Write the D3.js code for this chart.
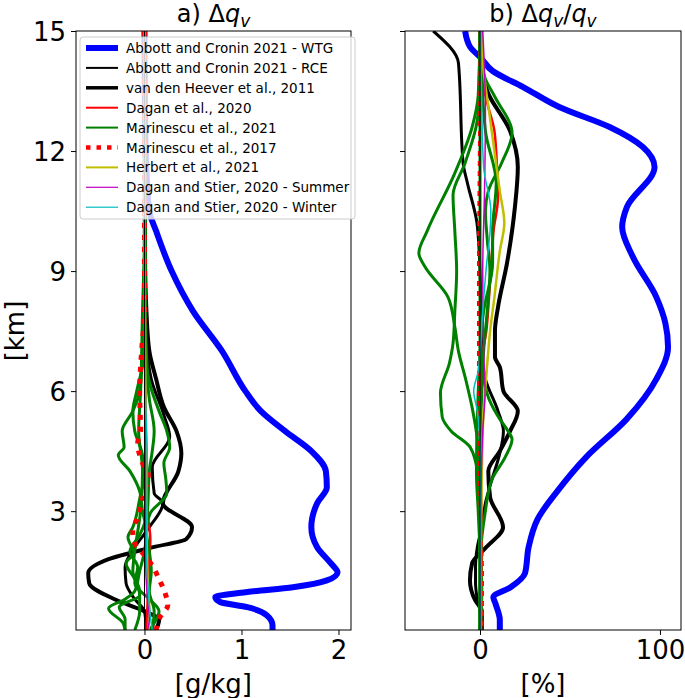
<!DOCTYPE html>
<html><head><meta charset="utf-8">
<script src="https://cdn.jsdelivr.net/npm/d3@7"></script>
<style>body{margin:0;background:#fff}svg{display:block}text{font-family:"DejaVu Sans",sans-serif;fill:#000}</style>
</head><body><svg id="c" width="685" height="698"></svg>
<script>
// ---------- data: [value, height km] ----------
const seriesNames = ["Abbott and Cronin 2021 - WTG","Abbott and Cronin 2021 - RCE","van den Heever et al., 2011","Dagan et al., 2020","Marinescu et al., 2021","Marinescu et al., 2017","Herbert et al., 2021","Dagan and Stier, 2020 - Summer","Dagan and Stier, 2020 - Winter"];
const xTicksA = [0,1,2];
const xTicksB = [0,100];
const yTicks = [3,6,9,12,15];

// panel a) Δq_v [g/kg]
const wtgA = [[1.32,0.03],[1.32,0.15],[1.26,0.4],[1.06,0.6],[0.78,0.73],[0.73,0.85],[1.06,0.98],[1.53,1.1],[1.88,1.27],[1.99,1.47],[1.92,1.7],[1.78,2.1],[1.72,2.6],[1.78,3.2],[1.88,3.6],[1.87,4.0],[1.72,4.5],[1.45,5.0],[1.2,5.5],[1.04,6.0],[0.8,7.0],[0.5,8.0],[0.28,9.0],[0.12,10.0],[0.05,10.5],[0.02,11.5],[0.005,13],[0,15]];
const rceA = [[0.02,0.03],[0.0,0.5],[-0.1,0.8],[-0.19,1.2],[-0.2,1.6],[-0.1,2.1],[0.05,2.6],[0.19,3.2],[0.1,3.45],[0.08,4.1],[0.26,4.86],[0.2,5.4],[0.07,6.3],[0.03,7],[0.01,8.5],[0,10],[0,15]];
const vdhA = [[0.12,0.03],[0.15,0.28],[-0.02,0.52],[-0.29,0.78],[-0.57,1.2],[-0.58,1.45],[-0.37,1.8],[0.09,2.1],[0.43,2.3],[0.49,2.6],[0.19,3.2],[0.35,4.0],[0.38,4.45],[0.33,5.0],[0.2,5.6],[0.12,6.3],[0.05,7.0],[0.02,8],[0.005,9.5],[0,15]];
const daganA = [[0.02,0.03],[0.03,0.6],[0.04,1.2],[0.05,1.8],[0.06,2.3],[0.03,3],[0.02,4],[0.01,6],[0,9],[0,15]];
const mar21A = [
 [[-0.2,0.03],[-0.22,0.2],[-0.37,0.57],[-0.2,0.8],[-0.1,1.0],[-0.05,1.5],[0,2],[0.02,2.5],[-0.02,3],[-0.05,3.5],[-0.15,4.0],[-0.27,4.4],[-0.21,4.6],[-0.23,5.0],[-0.12,5.5],[-0.05,6],[-0.02,7],[0,9],[0,15]],
 [[0.08,0.03],[0.1,0.5],[0.05,1.0],[0.07,1.5],[0.05,2],[0.02,2.5],[0.06,2.95],[0.23,3.45],[0.22,3.8],[0.2,4.2],[0.26,4.6],[0.23,5.0],[0.15,5.5],[0.03,6.5],[0.01,8],[0,15]],
 [[-0.2,0.03],[-0.2,0.3],[-0.26,0.6],[-0.05,0.9],[-0.1,1.3],[-0.19,1.7],[-0.11,1.95],[-0.17,2.35],[-0.12,2.6],[-0.05,3.3],[0,4],[-0.03,4.5],[-0.1,5],[-0.12,5.5],[-0.08,6],[0,7],[0,15]],
 [[0.05,0.03],[0.1,0.2],[0.15,0.5],[0.05,0.8],[-0.1,1.2],[-0.07,1.6],[-0.15,2.0],[-0.05,2.4],[0.03,3],[0.05,4],[0.08,4.5],[0.1,5],[0.05,5.8],[0.01,7],[0,15]],
 [[-0.1,0.03],[-0.05,0.5],[-0.05,1],[-0.12,1.5],[-0.1,2],[-0.04,3],[-0.02,4],[-0.06,5],[-0.04,6],[-0.02,8],[0,10],[0,15]]
];
const mar17A = [[0.12,0.03],[0.16,0.35],[0.24,0.65],[0.21,0.97],[0.15,1.3],[0.09,1.6],[0.0,1.9],[-0.1,2.2],[-0.12,2.5],[-0.07,2.85],[0.0,3.5],[0.04,3.9],[-0.02,4.2],[-0.07,4.7],[-0.04,5.0],[-0.05,6.0],[-0.03,7.0],[0,8],[0,15]];
const herbertA = [[0.04,0.03],[0.05,0.5],[0.04,1.0],[0.03,1.5],[0.02,3],[0.01,6],[0,10],[0,15]];
const summerA = [[0.03,0.03],[0.05,0.3],[0.03,0.8],[0.01,2],[0.01,5],[0,10],[0,15]];
const winterA = [[0.08,0.03],[0.06,0.4],[0.04,1],[0.02,2],[0.03,4],[0.01,6],[0,10],[0,15]];

// panel b) Δq_v/q_v [%]
const wtgB = [[11,0.03],[11,0.28],[8.5,0.7],[7.4,0.85],[17,1.1],[25,1.45],[27,2.1],[32,2.8],[43,3.5],[59,4.35],[81.5,5.3],[98,6.3],[104.5,7.1],[103,7.7],[98,8.35],[85,9.35],[79,10.1],[81.6,10.6],[97,11.6],[90.5,12.1],[72,12.6],[44,13.1],[24,13.6],[7,14.0],[0,14.35],[-5.5,14.6],[-8.3,15]];
const rceB = [[0.5,0.03],[0,0.5],[-1.5,0.8],[-2.5,1.2],[-2.5,1.6],[-1.5,2.1],[1,2.6],[3,3.2],[6,3.7],[11,4.45],[13,5.0],[10,5.5],[3,6.3],[1,7],[0,9],[-1.7,10.2],[-7,11.2],[-9.4,11.7],[-12,14.2],[-26,15]];
const vdhB = [[1,0.03],[1,0.5],[-2.8,0.78],[-5.6,1.27],[-4.4,1.7],[2.8,2.07],[12.8,2.6],[5.6,3.35],[4.6,4.0],[11,4.5],[16.7,5.0],[21,5.5],[13,6.0],[11,6.6],[8.3,6.85],[8.3,7.5],[10,8.1],[15,9.2],[19.4,10.6],[21,11.6],[16.7,12.5],[4,13.5],[1,14.2],[0.5,15]];
const daganB = [[0.5,0.03],[1,2],[0.5,4],[0.5,6],[1,6.8],[3.5,7.5],[5,8.35],[6,9],[7.5,10],[10,10.85],[9.5,11.5],[8,12.5],[4,13.2],[0.5,14],[0,15]];
const mar21B = [
 [[0,0.03],[0,3.5],[-1,4.6],[-4,5.5],[-8,6.3],[-12,7.0],[-14,7.6],[-17.8,8.35],[-30.5,9.1],[-34,9.45],[-29.4,10.0],[-14,11.45],[-4.4,12.6],[-1,13.4],[0,15]],
 [[0,0.03],[0,3],[-1.5,4],[-5.5,4.6],[-16,5.0],[-21,5.35],[-22,5.95],[-17,6.7],[-15,7.2],[-14,8],[-13,9],[-14,10],[-15,10.9],[-8.3,11.7],[-1,13],[0,15]],
 [[0,0.03],[0,4],[1,6],[2,7],[4,8],[5.5,9],[4,9.8],[3,10.5],[4.6,11.0],[12,11.7],[17.8,12.45],[8.3,13.35],[3,13.8],[0,14.5],[0,15]],
 [[0,0.03],[0.5,2],[2.8,2.95],[6.7,3.8],[14,4.35],[17.8,4.8],[15.6,5.0],[11,5.3],[5,5.8],[2,6.3],[0,7],[0,15]],
 [[0,0.03],[1,1],[0,2],[-1,3],[-2,4],[-1,6],[2,8],[7,9.2],[7,10],[9,11.2],[3,12.5],[0,15]]
];
const mar17B = [[1,0.03],[1.5,0.5],[1.5,1.5],[0,3],[-1,6],[-1,9],[-0.5,12],[0,15]];
const herbertB = [[0.5,0.03],[0.5,2],[1,4],[2,5.5],[3.7,6.5],[5.6,7.5],[8,8.35],[11,9.5],[13.5,10.2],[11,11],[8,12],[5,13],[2,14],[1,15]];
const summerB = [[0.5,0.03],[0.5,3],[1.5,5],[2.8,6],[2,7],[1.5,9],[2.5,11],[3,13],[1.5,15]];
const winterB = [[0.5,0.03],[0.5,2],[0,4.5],[-1.5,5.5],[-3.5,6.0],[-1,6.5],[0,7],[1.5,8],[3.7,9.2],[5.6,10],[6,10.5],[2,11.6],[1,13],[0.5,15]];

// ---------- styles ----------
const styles = [
 {c:"#0000ff", w:6},
 {c:"#000000", w:3},
 {c:"#000000", w:4},
 {c:"#ff0000", w:2.5},
 {c:"#008000", w:3},
 {c:"#ff0000", w:5, dash:"5,7"},
 {c:"#bfbf00", w:2.5},
 {c:"#bf00bf", w:1.5},
 {c:"#00bfbf", w:1.5}
];
const stylesB = styles.map((s,i)=> i===5 ? {c:"#ff0000", w:2.5, dash:"5,5"} : s);

const svg = d3.select("#c");
const y = d3.scaleLinear().domain([0.03,15]).range([630,31]);
const xA = d3.scaleLinear().domain([-0.706,2.129]).range([76,351]);
const xB = d3.scaleLinear().domain([-41.7,111.7]).range([405,681]);

function panel(x, id, sets, sty){
  const g = svg.append("g");
  g.append("clipPath").attr("id",id).append("rect")
    .attr("x",x.range()[0]).attr("y",31).attr("width",x.range()[1]-x.range()[0]).attr("height",599);
  const line = d3.line().x(d=>x(d[0])).y(d=>y(d[1])).curve(d3.curveMonotoneY);
  const lg = g.append("g").attr("clip-path",`url(#${id})`);
  sets.forEach((s,i)=>{
    const st = sty[i];
    const arr = Array.isArray(s[0][0]) ? s : [s];
    arr.forEach(d=>{
      const sorted = d.slice().sort((a,b)=>b[1]-a[1]);
      lg.append("path").attr("d",line(sorted)).attr("fill","none")
        .attr("stroke",st.c).attr("stroke-width",st.w)
        .attr("stroke-linejoin","round")
        .attr("stroke-dasharray",st.dash||null);
    });
  });
  lg.append("line").attr("x1",x(0)).attr("x2",x(0)).attr("y1",31).attr("y2",630)
    .attr("stroke","#000").attr("stroke-width",1);
  g.append("rect").attr("x",x.range()[0]).attr("y",31).attr("width",x.range()[1]-x.range()[0]).attr("height",599)
    .attr("fill","none").attr("stroke","#000").attr("stroke-width",1);
  return g;
}

panel(xA,"clipA",[wtgA,rceA,vdhA,daganA,mar21A,mar17A,herbertA,summerA,winterA],styles);
panel(xB,"clipB",[wtgB,rceB,vdhB,daganB,mar21B,mar17B,herbertB,summerB,winterB],stylesB);

// axes
const fs = 26;
const axA = svg.append("g").attr("transform","translate(0,630)").call(d3.axisBottom(xA).tickValues(xTicksA).tickSize(5).tickPadding(6).tickFormat(d3.format("d")));
const axB = svg.append("g").attr("transform","translate(0,630)").call(d3.axisBottom(xB).tickValues(xTicksB).tickSize(5).tickPadding(6).tickFormat(d3.format("d")));
const ayA = svg.append("g").attr("transform","translate(76,0)").call(d3.axisLeft(y).tickValues(yTicks).tickSize(5).tickPadding(5).tickFormat(d3.format("d")));
const ayB = svg.append("g").attr("transform","translate(405,0)").call(d3.axisLeft(y).tickValues(yTicks).tickSize(5).tickFormat(""));
[axA,axB,ayA,ayB].forEach(a=>{
  a.select(".domain").remove();
  a.selectAll("line").attr("stroke","#000");
  a.selectAll("text").attr("font-size",fs).attr("font-family","DejaVu Sans").attr("fill","#000");
});
ayA.selectAll("text").attr("dy","0.36em");

// axis labels
svg.append("text").attr("x",xA(0.71)).attr("y",693).attr("text-anchor","middle").attr("font-size",fs).text("[g/kg]");
svg.append("text").attr("x",(405+681)/2).attr("y",693).attr("text-anchor","middle").attr("font-size",fs).text("[%]");
svg.append("text").attr("transform","translate(24,331) rotate(-90)").attr("text-anchor","middle").attr("font-size",fs).text("[km]");

// titles
function title(cx, parts){
  const t = svg.append("text").attr("x",cx).attr("y",22).attr("text-anchor","middle").attr("font-size",24);
  parts.forEach(p=>{
    const ts = t.append("tspan").text(p.t);
    if(p.i) ts.attr("font-style","italic");
    if(p.s) ts.attr("font-size",17).attr("dy",p.dy);
    else if(p.dy) ts.attr("dy",p.dy);
  });
}
title(213.5,[{t:"a) Δ"},{t:"q",i:1},{t:"v",i:1,s:1,dy:5}]);
title(543,[{t:"b) Δ"},{t:"q",i:1},{t:"v",i:1,s:1,dy:5},{t:"/",dy:-5},{t:"q",i:1},{t:"v",i:1,s:1,dy:5}]);

// legend
const lgd = svg.append("g");
lgd.append("rect").attr("x",80).attr("y",37).attr("width",275).attr("height",182).attr("rx",3)
  .attr("fill","#fff").attr("fill-opacity",0.8).attr("stroke","#cccccc").attr("stroke-width",1);
seriesNames.forEach((n,i)=>{
  const yy = 48 + i*19.9;
  const st = styles[i];
  const lw = [6,2,3.5,2,2,4.5,2,1.2,1.2][i];
  lgd.append("line").attr("x1",86).attr("x2",118).attr("y1",yy).attr("y2",yy)
    .attr("stroke",st.c).attr("stroke-width",lw).attr("stroke-dasharray",st.dash?"4.5,6":null);
  lgd.append("text").attr("x",126).attr("y",yy+5).attr("font-size",13.5).text(n);
});
</script></body></html>
